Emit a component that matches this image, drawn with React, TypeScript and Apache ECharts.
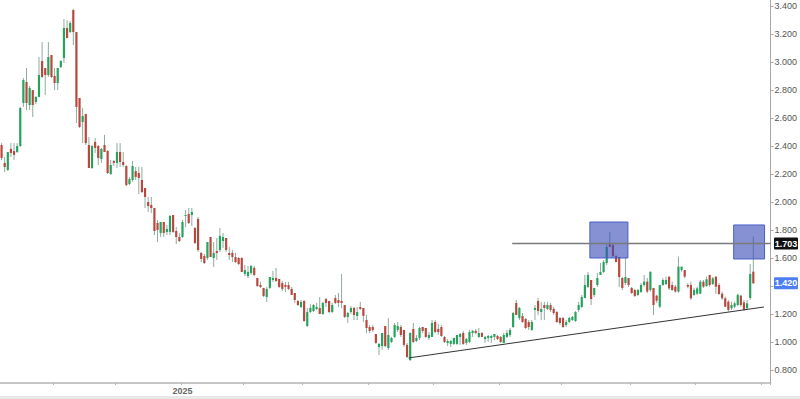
import React, { useEffect, useRef } from "react";
import * as echarts from "echarts";

// [open, close, low, high] per trading day, Oct 9 2024 .. Sep 26 2025
const ohlc: number[][] = [
  [2.407, 2.314, 2.300, 2.421], [2.279, 2.250, 2.214, 2.321], [2.229, 2.357, 2.221, 2.357], [2.379, 2.350, 2.321, 2.421],
  [2.364, 2.336, 2.300, 2.421], [2.357, 2.400, 2.350, 2.421], [2.400, 2.671, 2.393, 2.679], [2.707, 2.871, 2.679, 2.886],
  [2.857, 2.707, 2.657, 2.957], [2.693, 2.814, 2.657, 2.829], [2.800, 2.693, 2.607, 2.800], [2.714, 2.750, 2.700, 2.757],
  [2.750, 2.907, 2.750, 3.036], [3.007, 2.893, 2.886, 3.143], [2.957, 2.907, 2.764, 2.957], [2.907, 3.036, 2.893, 3.143],
  [3.050, 2.893, 2.886, 3.050], [2.900, 2.850, 2.800, 2.957], [2.850, 2.957, 2.800, 2.957], [2.964, 3.007, 2.957, 3.014],
  [3.029, 3.243, 2.993, 3.307], [3.243, 3.171, 3.171, 3.300], [3.214, 3.279, 3.207, 3.293], [3.371, 3.214, 3.121, 3.380],
  [3.214, 2.679, 2.564, 3.214], [2.743, 2.536, 2.529, 2.743], [2.571, 2.614, 2.421, 2.671], [2.629, 2.421, 2.407, 2.629],
  [2.407, 2.243, 2.243, 2.464], [2.243, 2.400, 2.236, 2.407], [2.429, 2.386, 2.350, 2.457], [2.400, 2.314, 2.264, 2.407],
  [2.307, 2.379, 2.279, 2.386], [2.407, 2.357, 2.357, 2.479], [2.364, 2.207, 2.200, 2.371], [2.200, 2.264, 2.193, 2.300],
  [2.293, 2.279, 2.257, 2.300], [2.279, 2.357, 2.243, 2.421], [2.357, 2.286, 2.250, 2.421], [2.286, 2.264, 2.250, 2.357],
  [2.257, 2.121, 2.114, 2.264], [2.129, 2.164, 2.121, 2.179], [2.157, 2.257, 2.143, 2.293], [2.221, 2.179, 2.157, 2.250],
  [2.207, 2.171, 2.057, 2.250], [2.157, 2.071, 2.064, 2.250], [2.100, 2.036, 1.957, 2.100], [2.000, 1.971, 1.929, 2.036],
  [1.979, 1.957, 1.921, 2.036], [1.957, 1.793, 1.764, 1.957], [1.850, 1.800, 1.714, 1.871], [1.779, 1.857, 1.750, 1.857],
  [1.857, 1.779, 1.750, 1.857], [1.786, 1.807, 1.764, 1.836], [1.786, 1.900, 1.764, 1.907], [1.907, 1.786, 1.779, 1.907],
  [1.793, 1.750, 1.700, 1.821], [1.750, 1.721, 1.714, 1.779], [1.750, 1.857, 1.743, 1.871], [1.900, 1.907, 1.821, 1.943],
  [1.914, 1.850, 1.843, 1.957], [1.907, 1.929, 1.829, 1.957], [1.814, 1.707, 1.700, 1.821], [1.879, 1.657, 1.643, 1.893],
  [1.636, 1.593, 1.571, 1.643], [1.614, 1.564, 1.557, 1.629], [1.600, 1.714, 1.586, 1.714], [1.750, 1.607, 1.607, 1.750],
  [1.600, 1.636, 1.536, 1.714], [1.650, 1.636, 1.586, 1.743], [1.657, 1.757, 1.643, 1.814], [1.721, 1.750, 1.671, 1.779],
  [1.743, 1.657, 1.643, 1.743], [1.636, 1.621, 1.586, 1.679], [1.636, 1.607, 1.571, 1.657], [1.607, 1.571, 1.564, 1.636],
  [1.600, 1.557, 1.550, 1.607], [1.600, 1.500, 1.500, 1.607], [1.486, 1.514, 1.471, 1.550], [1.471, 1.500, 1.457, 1.543],
  [1.493, 1.543, 1.479, 1.550], [1.529, 1.479, 1.471, 1.543], [1.457, 1.400, 1.393, 1.457], [1.407, 1.393, 1.386, 1.429],
  [1.386, 1.329, 1.321, 1.386], [1.321, 1.379, 1.286, 1.393], [1.386, 1.464, 1.379, 1.464], [1.443, 1.457, 1.429, 1.507],
  [1.457, 1.436, 1.429, 1.529], [1.450, 1.393, 1.386, 1.450], [1.421, 1.379, 1.364, 1.436], [1.407, 1.393, 1.357, 1.429],
  [1.407, 1.379, 1.371, 1.429], [1.379, 1.336, 1.336, 1.393], [1.350, 1.300, 1.279, 1.350], [1.293, 1.264, 1.257, 1.300],
  [1.250, 1.286, 1.243, 1.300], [1.293, 1.150, 1.143, 1.300], [1.114, 1.214, 1.107, 1.243], [1.214, 1.243, 1.207, 1.271],
  [1.221, 1.264, 1.214, 1.271], [1.236, 1.250, 1.229, 1.279], [1.243, 1.200, 1.200, 1.321], [1.200, 1.279, 1.193, 1.286],
  [1.307, 1.279, 1.250, 1.314], [1.293, 1.214, 1.207, 1.293], [1.214, 1.264, 1.207, 1.279], [1.314, 1.279, 1.271, 1.336],
  [1.300, 1.279, 1.250, 1.350], [1.293, 1.279, 1.243, 1.486], [1.264, 1.179, 1.171, 1.264], [1.179, 1.207, 1.136, 1.214],
  [1.214, 1.243, 1.200, 1.257], [1.243, 1.193, 1.157, 1.250], [1.186, 1.214, 1.157, 1.250], [1.250, 1.236, 1.229, 1.286],
  [1.243, 1.186, 1.143, 1.243], [1.157, 1.100, 1.064, 1.193], [1.107, 1.079, 1.064, 1.121], [1.107, 1.086, 1.071, 1.121],
  [1.057, 0.993, 0.986, 1.057], [0.964, 0.986, 0.907, 0.993], [0.971, 1.064, 0.943, 1.064], [1.114, 0.971, 0.964, 1.114],
  [0.957, 1.050, 0.943, 1.171], [1.000, 1.029, 0.993, 1.036], [1.036, 1.121, 1.029, 1.136], [1.086, 1.114, 1.071, 1.143],
  [1.107, 1.050, 1.036, 1.121], [1.086, 0.979, 0.964, 1.086], [0.979, 0.893, 0.886, 0.993], [0.871, 1.064, 0.864, 1.071],
  [1.093, 1.000, 0.993, 1.136], [1.007, 1.029, 1.000, 1.050], [1.029, 1.100, 1.014, 1.107], [1.107, 1.079, 1.064, 1.107],
  [1.100, 1.036, 1.029, 1.100], [1.029, 1.050, 1.014, 1.071], [1.036, 1.136, 1.036, 1.157], [1.143, 1.071, 1.064, 1.157],
  [1.093, 1.071, 1.050, 1.129], [1.107, 1.043, 1.036, 1.121], [1.036, 1.000, 0.993, 1.043], [0.993, 1.007, 0.971, 1.021],
  [0.986, 1.007, 0.964, 1.014], [0.986, 1.029, 0.979, 1.029], [0.986, 1.050, 0.979, 1.050], [1.036, 1.057, 0.979, 1.064],
  [1.064, 0.986, 0.979, 1.079], [0.993, 1.021, 0.979, 1.029], [1.000, 1.071, 0.993, 1.086], [1.064, 1.079, 1.036, 1.086],
  [1.079, 1.064, 1.057, 1.093], [1.036, 1.064, 1.029, 1.100], [1.064, 1.036, 1.036, 1.071], [1.021, 1.036, 0.993, 1.043],
  [1.029, 1.043, 1.000, 1.050], [1.029, 1.043, 0.993, 1.050], [1.036, 1.057, 1.014, 1.057], [1.043, 1.021, 1.014, 1.050],
  [1.036, 1.000, 0.993, 1.043], [0.993, 1.050, 0.993, 1.064], [1.036, 1.064, 1.029, 1.086], [1.050, 1.086, 1.036, 1.100],
  [1.107, 1.207, 1.100, 1.214], [1.279, 1.193, 1.193, 1.300], [1.171, 1.243, 1.157, 1.250], [1.186, 1.143, 1.136, 1.207],
  [1.164, 1.100, 1.093, 1.171], [1.143, 1.107, 1.086, 1.157], [1.086, 1.143, 1.079, 1.157], [1.229, 1.243, 1.157, 1.264],
  [1.293, 1.221, 1.193, 1.314], [1.214, 1.236, 1.157, 1.286], [1.264, 1.243, 1.157, 1.286], [1.236, 1.264, 1.229, 1.286],
  [1.264, 1.229, 1.214, 1.279], [1.236, 1.207, 1.193, 1.250], [1.214, 1.143, 1.136, 1.221], [1.171, 1.136, 1.121, 1.179],
  [1.171, 1.107, 1.100, 1.179], [1.121, 1.143, 1.107, 1.157], [1.143, 1.171, 1.136, 1.179], [1.157, 1.179, 1.150, 1.186],
  [1.150, 1.214, 1.143, 1.221], [1.229, 1.264, 1.214, 1.286], [1.250, 1.321, 1.243, 1.336], [1.314, 1.407, 1.314, 1.479],
  [1.393, 1.479, 1.386, 1.500], [1.443, 1.307, 1.264, 1.443], [1.336, 1.386, 1.321, 1.386], [1.407, 1.457, 1.393, 1.493],
  [1.479, 1.500, 1.479, 1.564], [1.500, 1.571, 1.493, 1.586], [1.564, 1.679, 1.550, 1.707], [1.707, 1.679, 1.679, 1.786],
  [1.693, 1.614, 1.607, 1.707], [1.614, 1.571, 1.571, 1.621], [1.607, 1.464, 1.393, 1.607], [1.457, 1.386, 1.371, 1.464],
  [1.421, 1.464, 1.407, 1.607], [1.457, 1.407, 1.393, 1.457], [1.386, 1.350, 1.343, 1.393], [1.371, 1.329, 1.321, 1.379],
  [1.336, 1.371, 1.329, 1.379], [1.357, 1.407, 1.350, 1.421], [1.407, 1.431, 1.395, 1.479], [1.431, 1.360, 1.350, 1.457],
  [1.371, 1.502, 1.360, 1.502], [1.386, 1.264, 1.193, 1.386], [1.331, 1.295, 1.279, 1.336], [1.252, 1.407, 1.243, 1.407],
  [1.407, 1.443, 1.400, 1.457], [1.414, 1.443, 1.407, 1.467], [1.467, 1.383, 1.371, 1.467], [1.407, 1.371, 1.367, 1.431],
  [1.395, 1.360, 1.352, 1.407], [1.360, 1.538, 1.352, 1.610], [1.514, 1.538, 1.502, 1.538], [1.514, 1.467, 1.455, 1.514],
  [1.407, 1.395, 1.383, 1.421], [1.407, 1.312, 1.300, 1.431], [1.336, 1.371, 1.329, 1.386], [1.345, 1.383, 1.336, 1.395],
  [1.345, 1.431, 1.343, 1.443], [1.431, 1.395, 1.386, 1.443], [1.400, 1.448, 1.395, 1.467], [1.479, 1.407, 1.395, 1.479],
  [1.414, 1.455, 1.407, 1.464], [1.467, 1.395, 1.343, 1.467], [1.407, 1.343, 1.336, 1.421], [1.345, 1.312, 1.300, 1.360],
  [1.312, 1.252, 1.248, 1.324], [1.288, 1.229, 1.217, 1.300], [1.241, 1.264, 1.229, 1.288], [1.252, 1.276, 1.241, 1.288],
  [1.264, 1.336, 1.257, 1.345], [1.331, 1.264, 1.252, 1.336], [1.283, 1.229, 1.224, 1.300], [1.241, 1.276, 1.233, 1.300],
  [1.314, 1.486, 1.300, 1.557], [1.502, 1.420, 1.414, 1.752],
];

const firstDay = "2024-10-09";
const holidays = [
  "2024-11-28", "2024-12-25", "2025-01-01", "2025-01-09", "2025-01-20", "2025-02-17",
  "2025-04-18", "2025-05-26", "2025-06-19", "2025-07-04", "2025-09-01",
];
const emptySlots = 5; // trading days drawn after the last candle

const yMin = 0.707;
const yMax = 3.443;

const resistance = { from: 163.7, to: 246.5, level: 1.703 };
const trend = { x0: 130.5, y0: 0.886, x1: 244.4, y1: 1.25 };
const zones = [
  { from: 188.6, to: 200.8, low: 1.6, high: 1.857 },
  { from: 234.7, to: 244.6, low: 1.593, high: 1.836 },
];
const badges = [
  { value: 1.703, text: "1.703", color: "#111111" },
  { value: 1.42, text: "1.420", color: "#4d7ff2" },
];

const GREEN = "#23a35c";
const RED = "#b8473e";
const WICK = "#8fab9d";

function tradingDays(start: string, count: number): string[] {
  const out: string[] = [];
  const d = new Date(start + "T12:00:00Z");
  while (out.length < count) {
    const wd = d.getUTCDay();
    const s = d.toISOString().slice(0, 10);
    if (wd !== 0 && wd !== 6 && !holidays.includes(s)) out.push(s);
    d.setUTCDate(d.getUTCDate() + 1);
  }
  return out;
}

export default function App() {
  const ref = useRef<HTMLDivElement>(null);
  useEffect(() => {
    if (!ref.current) return;
    const chart = echarts.init(ref.current, undefined, { renderer: "svg" });
    const dates = tradingDays(firstDay, ohlc.length + emptySlots);
    const monthStart = new Set<number>();
    dates.forEach((d, i) => {
      if (i > 0 && d.slice(5, 7) !== dates[i - 1].slice(5, 7)) monthStart.add(i);
    });
    const font = "Liberation Sans, Arial, sans-serif";

    chart.setOption({
      animation: false,
      backgroundColor: "#ffffff",
      grid: { left: -1, right: 28, top: 0, bottom: 16, containLabel: false },
      xAxis: {
        type: "category",
        data: dates,
        boundaryGap: true,
        axisLine: { show: true, lineStyle: { color: "#b3b3b3", width: 1.5 } },
        axisTick: {
          show: true,
          length: 2,
          interval: (i: number) => monthStart.has(i),
          lineStyle: { color: "#b3b3b3" },
        },
        axisLabel: {
          show: true,
          interval: (i: number) => monthStart.has(i),
          formatter: (v: string) => (v.slice(5, 7) === "01" ? v.slice(0, 4) : ""),
          color: "#666666",
          fontSize: 9,
          fontWeight: "bold",
          fontFamily: font,
          margin: 3,
        },
        splitLine: { show: false },
      },
      yAxis: {
        type: "value",
        position: "right",
        min: yMin,
        max: yMax,
        splitNumber: 14,
        axisLine: { show: true, lineStyle: { color: "#a8a8a8", width: 1 } },
        axisTick: { show: true, length: 3, lineStyle: { color: "#a8a8a8" } },
        axisLabel: {
          showMinLabel: false,
          showMaxLabel: false,
          // labels hidden behind the price badges are left blank
          formatter: (v: number) =>
            badges.some((b) => Math.abs(b.value - v) < 0.035) ? "" : v.toFixed(3),
          color: "#555555",
          fontSize: 9,
          fontFamily: font,
          margin: 4,
        },
        splitLine: { show: false },
      },
      series: [
        {
          type: "custom",
          data: ohlc.map((d, i) => [i, d[0], d[1], d[2], d[3]]),
          encode: { x: 0, y: [1, 2, 3, 4] },
          clip: true,
          renderItem: (params: any, api: any) => {
            const i = api.value(0);
            const o = api.value(1);
            const c = api.value(2);
            const l = api.value(3);
            const h = api.value(4);
            const pO = api.coord([i, o]);
            const pC = api.coord([i, c]);
            const pL = api.coord([i, l]);
            const pH = api.coord([i, h]);
            const bw = api.size([1, 0])[0] * 0.7;
            const top = Math.min(pO[1], pC[1]);
            const bh = Math.max(Math.abs(pO[1] - pC[1]), 1);
            return {
              type: "group",
              children: [
                {
                  type: "line",
                  shape: { x1: pH[0], y1: pH[1], x2: pL[0], y2: pL[1] },
                  style: { stroke: WICK, lineWidth: 1 },
                },
                {
                  type: "rect",
                  shape: { x: pO[0] - bw / 2, y: top, width: bw, height: bh },
                  style: { fill: c >= o ? GREEN : RED },
                },
              ],
            };
          },
        },
      ],
    });

    const px = (v: number) => {
      const a = Math.floor(v);
      const p0 = chart.convertToPixel({ xAxisIndex: 0 }, a) as number;
      const p1 = chart.convertToPixel({ xAxisIndex: 0 }, a + 1) as number;
      return p0 + (p1 - p0) * (v - a);
    };
    const py = (v: number) => chart.convertToPixel({ yAxisIndex: 0 }, v) as number;

    const graphics: any[] = [];
    zones.forEach((z) => {
      const x0 = px(z.from);
      const x1 = px(z.to);
      const y0 = py(z.high);
      const y1 = py(z.low);
      graphics.push({
        type: "rect",
        z: 10,
        shape: { x: x0, y: y0, width: x1 - x0, height: y1 - y0 },
        style: { fill: "rgba(58,78,182,0.62)", stroke: "#4a60c8", lineWidth: 1 },
      });
    });
    graphics.push({
      type: "line",
      z: 11,
      shape: { x1: px(resistance.from), y1: py(resistance.level), x2: px(resistance.to), y2: py(resistance.level) },
      style: { stroke: "#7a7a7a", lineWidth: 1.5 },
    });
    graphics.push({
      type: "line",
      z: 11,
      shape: { x1: px(trend.x0), y1: py(trend.y0), x2: px(trend.x1), y2: py(trend.y1) },
      style: { stroke: "#333333", lineWidth: 1 },
    });
    badges.forEach((b) => {
      const y = py(b.value);
      graphics.push({
        type: "rect",
        z: 20,
        shape: { x: 774, y: y - 6, width: 24, height: 12, r: 1 },
        style: { fill: b.color },
      });
      graphics.push({
        type: "text",
        z: 21,
        style: {
          text: b.text,
          x: 786,
          y: y,
          align: "center",
          verticalAlign: "middle",
          fill: "#ffffff",
          font: "bold 9px " + font,
        },
      });
    });
    graphics.push({
      type: "rect",
      z: 5,
      shape: { x: 0, y: 396, width: 800, height: 3 },
      style: { fill: "#e8e8e8" },
    });
    chart.setOption({ graphic: graphics });

    return () => chart.dispose();
  }, []);

  return (
    <div
      ref={ref}
      style={{ position: "fixed", left: 0, top: 0, width: 800, height: 399, background: "#fff" }}
    />
  );
}
